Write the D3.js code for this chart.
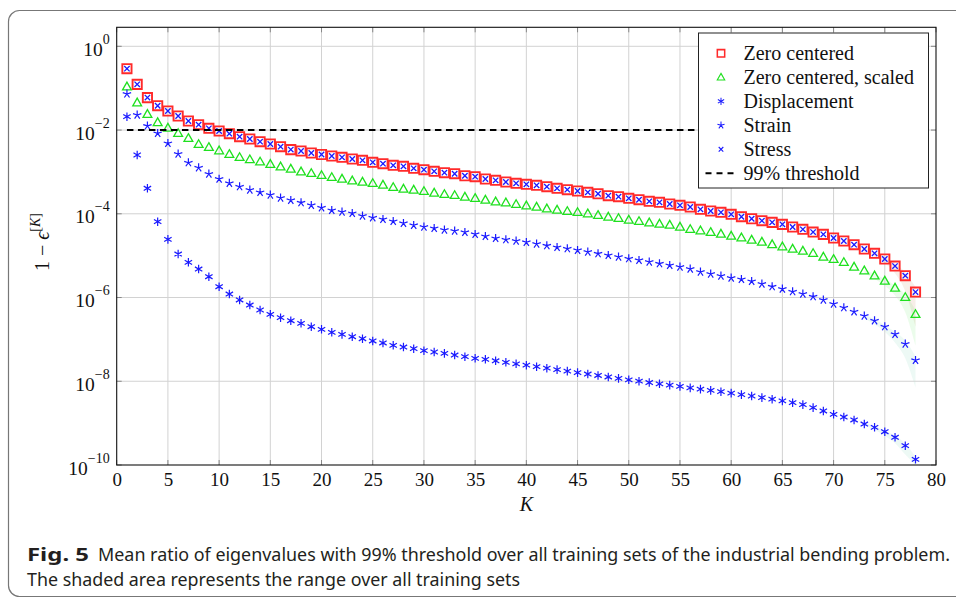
<!DOCTYPE html>
<html>
<head>
<meta charset="utf-8">
<title>Mean ratio of eigenvalues</title>
<script src="https://cdn.jsdelivr.net/npm/d3@7"></script>
<style>
  body { margin: 0; background: #fff; }
  svg text { font-family: "Liberation Serif", "DejaVu Serif", serif; fill: #111; }
  .caption text { font-family: "Liberation Sans Narrow", "Noto Sans", Roboto, sans-serif; fill: #231f20; }
</style>
</head>
<body>
<svg id="chart" width="956" height="600"></svg>
<script>
// values are log10(1 - eps[K]), K = 1..78
var zeroCentered = [
  -0.535, -0.908, -1.225, -1.419, -1.545, -1.665, -1.784, -1.872, -1.958, -2.023,
  -2.087, -2.159, -2.214, -2.278, -2.333, -2.398, -2.467, -2.501, -2.548, -2.584,
  -2.620, -2.651, -2.692, -2.723, -2.770, -2.804, -2.842, -2.866, -2.914, -2.947,
  -2.985, -3.019, -3.043, -3.091, -3.114, -3.169, -3.200, -3.241, -3.272, -3.296,
  -3.320, -3.353, -3.391, -3.425, -3.456, -3.487, -3.521, -3.568, -3.592, -3.630,
  -3.664, -3.702, -3.726, -3.766, -3.797, -3.838, -3.893, -3.934, -3.965, -4.012,
  -4.070, -4.118, -4.165, -4.204, -4.252, -4.316, -4.371, -4.436, -4.491, -4.578,
  -4.650, -4.738, -4.841, -4.944, -5.080, -5.248, -5.479, -5.869];
var zeroCenteredScaled = [
  -0.965, -1.347, -1.622, -1.820, -1.951, -2.078, -2.197, -2.341, -2.412, -2.493,
  -2.579, -2.651, -2.705, -2.760, -2.816, -2.876, -2.930, -2.995, -3.033, -3.081,
  -3.129, -3.169, -3.210, -3.241, -3.272, -3.313, -3.368, -3.408, -3.432, -3.463,
  -3.504, -3.535, -3.559, -3.599, -3.630, -3.671, -3.712, -3.735, -3.774, -3.807,
  -3.838, -3.879, -3.910, -3.941, -3.965, -3.998, -4.036, -4.077, -4.108, -4.149,
  -4.180, -4.213, -4.244, -4.268, -4.316, -4.371, -4.404, -4.442, -4.483, -4.531,
  -4.571, -4.626, -4.674, -4.734, -4.786, -4.841, -4.889, -4.944, -5.032, -5.087,
  -5.159, -5.271, -5.359, -5.479, -5.605, -5.773, -5.995, -6.401];
var displacement = [
  -1.681, -2.596, -3.391, -4.189, -4.610, -4.961, -5.159, -5.319, -5.503, -5.742,
  -5.916, -6.059, -6.179, -6.298, -6.401, -6.482, -6.554, -6.616, -6.697, -6.759,
  -6.831, -6.879, -6.936, -6.984, -7.038, -7.086, -7.141, -7.182, -7.222, -7.270,
  -7.301, -7.333, -7.373, -7.413, -7.452, -7.476, -7.511, -7.547, -7.583, -7.616,
  -7.652, -7.688, -7.722, -7.757, -7.793, -7.827, -7.862, -7.898, -7.932, -7.965,
  -7.998, -8.030, -8.061, -8.092, -8.123, -8.157, -8.187, -8.218, -8.249, -8.283,
  -8.319, -8.352, -8.390, -8.428, -8.469, -8.512, -8.557, -8.629, -8.710, -8.789,
  -8.854, -8.925, -9.021, -9.100, -9.205, -9.338, -9.539, -9.864];
var strain = [
  -1.138, -1.640, -1.902, -2.078, -2.317, -2.572, -2.780, -2.900, -3.050, -3.170,
  -3.270, -3.353, -3.432, -3.487, -3.551, -3.623, -3.678, -3.735, -3.797, -3.855,
  -3.917, -3.957, -3.989, -4.053, -4.094, -4.132, -4.180, -4.227, -4.275, -4.316,
  -4.347, -4.387, -4.411, -4.442, -4.490, -4.538, -4.586, -4.619, -4.650, -4.681,
  -4.722, -4.762, -4.801, -4.834, -4.872, -4.913, -4.953, -4.992, -5.032, -5.073,
  -5.111, -5.152, -5.192, -5.231, -5.271, -5.318, -5.390, -5.438, -5.486, -5.533,
  -5.565, -5.613, -5.677, -5.741, -5.797, -5.861, -5.916, -5.980, -6.059, -6.155,
  -6.243, -6.339, -6.441, -6.554, -6.697, -6.878, -7.110, -7.499];
var stress = [
  -0.535, -0.908, -1.225, -1.419, -1.545, -1.665, -1.784, -1.872, -1.958, -2.023,
  -2.087, -2.159, -2.214, -2.278, -2.333, -2.398, -2.467, -2.501, -2.548, -2.584,
  -2.620, -2.651, -2.692, -2.723, -2.770, -2.804, -2.842, -2.866, -2.914, -2.947,
  -2.985, -3.019, -3.043, -3.091, -3.114, -3.169, -3.200, -3.241, -3.272, -3.296,
  -3.320, -3.353, -3.391, -3.425, -3.456, -3.487, -3.521, -3.568, -3.592, -3.630,
  -3.664, -3.702, -3.726, -3.766, -3.797, -3.838, -3.893, -3.934, -3.965, -4.012,
  -4.070, -4.118, -4.165, -4.204, -4.252, -4.316, -4.371, -4.436, -4.491, -4.578,
  -4.650, -4.738, -4.841, -4.944, -5.080, -5.248, -5.479, -5.869];

// shaded range (only visible at the tail), log10 values
var bandK = [73, 74, 75, 76, 77, 78];
var zeroCenteredLo = [-4.90, -5.02, -5.18, -5.42, -5.85, -6.70];
var zeroCenteredHi = [-4.80, -4.90, -5.03, -5.19, -5.40, -5.75];
var scaledLo = [-5.42, -5.56, -5.72, -5.95, -6.35, -7.15];
var scaledHi = [-5.33, -5.44, -5.56, -5.72, -5.93, -6.30];
var strainLo = [-6.50, -6.64, -6.82, -7.08, -7.45, -8.15];
var strainHi = [-6.40, -6.52, -6.66, -6.82, -7.03, -7.40];
var displacementLo = [-9.05, -9.16, -9.30, -9.48, -9.75, -10.0];
var displacementHi = [-8.99, -9.07, -9.18, -9.30, -9.49, -9.80];

var thresholdK = [1, 78];
var thresholdValue = 0.01;

var xTicks = [0, 5, 10, 15, 20, 25, 30, 35, 40, 45, 50, 55, 60, 65, 70, 75, 80];
var yTickExp = [0, -2, -4, -6, -8, -10];
var legendLabels = ["Zero centered", "Zero centered, scaled", "Displacement", "Strain", "Stress", "99% threshold"];

var RED = "#ff2a2a", GREEN = "#1fe01f", BLUE = "#1a1aff", TEAL = "#4cc0a0";

var svg = d3.select("#chart");
var plotL = 116.7, plotR = 936, plotT = 27.3, plotB = 465;

var x = d3.scaleLinear().domain([0, 80]).range([plotL, plotR]);
var y = d3.scaleLog().domain([Math.pow(10, 0.454), 1e-10]).range([plotT, plotB]);

// outer figure frame
svg.append("rect").attr("x", 8.5).attr("y", 10.5).attr("width", 980).attr("height", 586)
  .attr("rx", 11).attr("fill", "none").attr("stroke", "#777").attr("stroke-width", 1.2);

var toPts = function(arr) {
  return arr.map(function(v, i) { return {k: i + 1, v: Math.pow(10, v)}; });
};

// shaded ranges
var area = d3.area()
  .x(function(d) { return x(d.k); })
  .y0(function(d) { return y(d.lo); })
  .y1(function(d) { return y(d.hi); })
  .curve(d3.curveMonotoneX);
[[zeroCenteredLo, zeroCenteredHi, "#c07040", 0.12], [scaledLo, scaledHi, GREEN, 0.09],
 [strainLo, strainHi, TEAL, 0.1], [displacementLo, displacementHi, TEAL, 0.1]].forEach(function(b) {
  var pts = bandK.map(function(k, i) { return {k: k, lo: Math.pow(10, b[0][i]), hi: Math.pow(10, b[1][i])}; });
  svg.append("path").datum(pts).attr("d", area).attr("fill", b[2]).attr("fill-opacity", b[3]);
});

// grid
var grid = svg.append("g").attr("stroke", "#d2d2d2").attr("stroke-width", 1);
grid.selectAll("line.gx").data(xTicks.slice(1, -1)).enter().append("line")
  .attr("x1", function(d) { return x(d); }).attr("x2", function(d) { return x(d); })
  .attr("y1", plotT).attr("y2", plotB);
grid.selectAll("line.gy").data(yTickExp.slice(0, -1)).enter().append("line")
  .attr("x1", plotL).attr("x2", plotR)
  .attr("y1", function(d) { return y(Math.pow(10, d)); }).attr("y2", function(d) { return y(Math.pow(10, d)); });

// tick marks on all four sides, pointing in
var ticks = svg.append("g").attr("stroke", "#888").attr("stroke-width", 1);
xTicks.forEach(function(t) {
  ticks.append("line").attr("x1", x(t)).attr("x2", x(t)).attr("y1", plotB).attr("y2", plotB - 5);
  ticks.append("line").attr("x1", x(t)).attr("x2", x(t)).attr("y1", plotT).attr("y2", plotT + 5);
});
yTickExp.forEach(function(e) {
  var yy = y(Math.pow(10, e));
  ticks.append("line").attr("x1", plotL).attr("x2", plotL + 5).attr("y1", yy).attr("y2", yy);
  ticks.append("line").attr("x1", plotR).attr("x2", plotR - 5).attr("y1", yy).attr("y2", yy);
});

// x tick labels through the axis generator
var xAxis = svg.append("g").attr("transform", "translate(0," + plotB + ")")
  .call(d3.axisBottom(x).tickValues(xTicks).tickSize(0).tickPadding(8).tickFormat(d3.format("d")));
xAxis.select(".domain").remove();
xAxis.selectAll("text").attr("font-size", 19).attr("font-family", "Liberation Serif, serif").attr("fill", "#111");

// y tick labels 10^e
yTickExp.forEach(function(e) {
  var yy = y(Math.pow(10, e));
  var t = svg.append("text").attr("x", plotL - 7).attr("y", yy + 9.5)
    .attr("text-anchor", "end").attr("font-size", 19.5);
  t.append("tspan").text("10");
  t.append("tspan").attr("dy", -12).attr("font-size", 14).text(e === 0 ? "0" : "\u2212" + (-e));
});

// markers
var starPath = d3.range(5).map(function(i) {
  var a = -Math.PI / 2 + i * 2 * Math.PI / 5;
  return "M0,0L" + (4.4 * Math.cos(a)).toFixed(2) + "," + (4.4 * Math.sin(a)).toFixed(2);
}).join("");
var marks = {
  square: "M-4.6,-4.6H4.6V4.6H-4.6Z",
  triangle: "M0,-4.6L4.4,3.1L-4.4,3.1Z",
  asterisk: "M0,-4.3V4.3M-3.7,-2.15L3.7,2.15M-3.7,2.15L3.7,-2.15",
  star: starPath,
  cross: "M-2.7,-2.7L2.7,2.7M-2.7,2.7L2.7,-2.7"
};
var series = [
  {data: zeroCentered, mark: marks.square, color: RED, width: 1.9},
  {data: zeroCenteredScaled, mark: marks.triangle, color: GREEN, width: 1.3},
  {data: displacement, mark: marks.asterisk, color: BLUE, width: 1.2},
  {data: strain, mark: marks.star, color: BLUE, width: 1.2},
  {data: stress, mark: marks.cross, color: BLUE, width: 1.3}
];
series.forEach(function(s) {
  svg.append("g").selectAll("path").data(toPts(s.data)).enter().append("path")
    .attr("transform", function(d) { return "translate(" + x(d.k) + "," + y(d.v) + ")"; })
    .attr("d", s.mark).attr("fill", "none").attr("stroke", s.color).attr("stroke-width", s.width);
});

// 99% threshold
svg.append("line").attr("x1", x(thresholdK[0])).attr("x2", x(thresholdK[1]))
  .attr("y1", y(thresholdValue)).attr("y2", y(thresholdValue))
  .attr("stroke", "#000").attr("stroke-width", 2).attr("stroke-dasharray", "6.5,4.5");

// plot frame
svg.append("rect").attr("x", plotL).attr("y", plotT).attr("width", plotR - plotL).attr("height", plotB - plotT)
  .attr("fill", "none").attr("stroke", "#111").attr("stroke-width", 1.1);

// axis labels
svg.append("text").attr("x", x(40)).attr("y", 511).attr("text-anchor", "middle")
  .attr("font-size", 20).attr("font-style", "italic").text("K");
var yl = svg.append("text").attr("transform", "translate(49,242) rotate(-90)")
  .attr("text-anchor", "middle").attr("font-size", 20);
yl.append("tspan").text("1 \u2212 ");
yl.append("tspan").attr("font-style", "italic").text("\u03f5");
yl.append("tspan").attr("dy", -9).attr("font-size", 14).text("[");
yl.append("tspan").attr("font-size", 14).attr("font-style", "italic").text("K");
yl.append("tspan").attr("font-size", 14).text("]");

// legend
var lg = svg.append("g").attr("transform", "translate(698.5,33)");
lg.append("rect").attr("width", 230).attr("height", 155).attr("fill", "#fff")
  .attr("stroke", "#222").attr("stroke-width", 1);
var legendMarks = [marks.square, marks.triangle, marks.asterisk, marks.star, marks.cross];
legendLabels.forEach(function(lab, i) {
  var cy = 20.3 + i * 24;
  if (i < 5) {
    var sc = i === 0 ? 0.8 : 0.85;
    lg.append("path").attr("transform", "translate(22.5," + cy + ") scale(" + sc + ")")
      .attr("d", legendMarks[i]).attr("fill", "none").attr("stroke", series[i].color)
      .attr("stroke-width", series[i].width);
  } else {
    lg.append("line").attr("x1", 7).attr("x2", 36).attr("y1", cy).attr("y2", cy)
      .attr("stroke", "#000").attr("stroke-width", 2).attr("stroke-dasharray", "6,5");
  }
  lg.append("text").attr("x", 45).attr("y", cy + 6.4).attr("font-size", 20).text(lab);
});

// caption
var cap = svg.append("g").attr("class", "caption");
cap.append("text").attr("x", 27).attr("y", 561).attr("font-size", 18).attr("font-weight", "bold")
  .attr("textLength", 62).attr("lengthAdjust", "spacingAndGlyphs").text("Fig. 5");
cap.append("text").attr("x", 98).attr("y", 561).attr("font-size", 18)
  .attr("textLength", 852).attr("lengthAdjust", "spacingAndGlyphs")
  .text("Mean ratio of eigenvalues with 99% threshold over all training sets of the industrial bending problem.");
cap.append("text").attr("x", 27).attr("y", 586).attr("font-size", 18)
  .attr("textLength", 493).attr("lengthAdjust", "spacingAndGlyphs")
  .text("The shaded area represents the range over all training sets");
</script>
</body>
</html>
